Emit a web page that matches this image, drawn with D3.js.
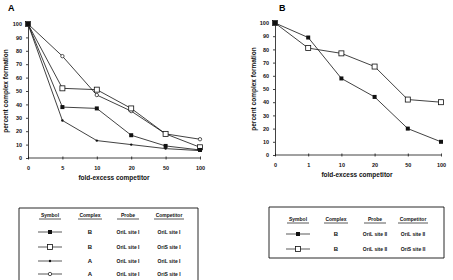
<!DOCTYPE html>
<html>
<head>
<meta charset="utf-8">
<script src="https://cdn.jsdelivr.net/npm/d3@7"></script>
<style>
  body { margin: 0; background: #fff; }
  svg { display: block; font-family: "Liberation Sans", Arial, sans-serif; }
  .axis text { font-size: 5.5px; font-weight: bold; fill: #111; }
  .axis path, .axis line { stroke: #111; stroke-width: 0.8; }
  .title { font-size: 6.5px; font-weight: bold; fill: #111; }
  .leg { font-size: 5px; font-weight: bold; fill: #111; }
</style>
</head>
<body>
<svg id="chart" width="453" height="280"></svg>
<script>
// panel A data
var catsA = ["0", "5", "10", "20", "50", "100"];
var aFilledSq = [100, 38, 37, 17, 9, 6];     // B, OriL site I / OriL site I
var aOpenSq   = [100, 52, 51, 37, 18, 8];    // B, OriL site I / OriS site I
var aFilledDot = [100, 28, 13, 10, 7, 5.5];  // A, OriL site I / OriL site I
var aOpenDot  = [100, 76, 47, 35, 18, 14];   // A, OriL site I / OriS site I

// panel B data
var catsB = ["0", "1", "10", "20", "50", "100"];
var bFilledSq = [100, 89, 58, 44, 20, 10];   // B, OriL site II / OriL site II
var bOpenSq   = [100, 81, 77, 67, 42, 40];   // B, OriL site II / OriS site II

var yTicks = [0, 10, 20, 30, 40, 50, 60, 70, 80, 90, 100];

var legHeaders = ["Symbol", "Complex", "Probe", "Competitor"];
var legRowsA = [
  ["fsq", "B", "OriL  site I", "OriL  site I"],
  ["osq", "B", "OriL  site I", "OriS  site I"],
  ["fdot", "A", "OriL  site I", "OriL  site I"],
  ["odot", "A", "OriL  site I", "OriS  site I"]
];
var legRowsB = [
  ["fsq", "B", "OriL  site II", "OriL  site II"],
  ["osq", "B", "OriL  site II", "OriS  site II"]
];

var svg = d3.select("#chart");

function marker(g, type, x, y) {
  if (type == "fsq") {
    g.append("rect").attr("x", x - 2).attr("y", y - 2).attr("width", 4).attr("height", 4)
      .attr("fill", "#111");
  } else if (type == "osq") {
    g.append("rect").attr("x", x - 2.5).attr("y", y - 2.5).attr("width", 5).attr("height", 5)
      .attr("fill", "#fff").attr("stroke", "#111").attr("stroke-width", 0.8);
  } else if (type == "fdot") {
    g.append("circle").attr("cx", x).attr("cy", y).attr("r", 1.2).attr("fill", "#111");
  } else {
    g.append("circle").attr("cx", x).attr("cy", y).attr("r", 1.7)
      .attr("fill", "#fff").attr("stroke", "#111").attr("stroke-width", 0.7);
  }
}

function drawPanel(p) {
  var x = d3.scalePoint().domain(p.cats).range([p.x0, p.x1]);
  var y = d3.scaleLinear().domain([0, 100]).range([p.y0, p.y1]);

  svg.append("text").attr("x", p.lx).attr("y", p.ly)
    .style("font-size", "9px").style("font-weight", "bold").text(p.label);

  svg.append("g").attr("class", "axis")
    .attr("transform", "translate(" + p.x0 + ",0)")
    .call(d3.axisLeft(y).tickValues(yTicks).tickSize(2).tickPadding(4).tickSizeOuter(0));

  var xa = svg.append("g").attr("class", "axis")
    .attr("transform", "translate(0," + p.y0 + ")")
    .call(d3.axisBottom(x).tickSize(2).tickPadding(6).tickSizeOuter(0));
  xa.select(".domain").attr("d", "M" + p.x0 + ",0H" + p.x1);
  xa.selectAll(".tick line").attr("y1", -1.5).attr("y2", 1.5);

  svg.append("text").attr("class", "title")
    .attr("x", (p.x0 + p.x1) / 2 + p.txOff).attr("y", p.y0 + 22)
    .attr("text-anchor", "middle").text("fold-excess  competitor");

  svg.append("text").attr("class", "title")
    .attr("transform", "translate(" + p.ytx + "," + (p.y0 + p.y1) / 2 + ") rotate(-90)")
    .attr("text-anchor", "middle").text("percent  complex  formation");

  var line = d3.line().x(function(d, i) { return x(p.cats[i]); }).y(function(d) { return y(d); });

  p.series.forEach(function(s) {
    svg.append("path").datum(s.values).attr("d", line)
      .attr("fill", "none").attr("stroke", "#111").attr("stroke-width", 0.8);
  });
  p.series.forEach(function(s) {
    var g = svg.append("g");
    s.values.forEach(function(v, i) { marker(g, s.type, x(p.cats[i]), y(v)); });
  });
}

function drawLegend(l) {
  var g = svg.append("g");
  g.append("path")
    .attr("d", "M" + l.left + "," + l.bottom + "V" + l.top + "H" + l.right + "V" + l.bottom + (l.closed ? "Z" : ""))
    .attr("fill", "none").attr("stroke", "#111").attr("stroke-width", 0.9);

  legHeaders.forEach(function(h, i) {
    var t = g.append("text").attr("class", "leg").attr("x", l.cols[i]).attr("y", l.hy)
      .attr("text-anchor", "middle").text(h);
    var w = l.ulw[i];
    g.append("line").attr("x1", l.cols[i] - w / 2).attr("x2", l.cols[i] + w / 2)
      .attr("y1", l.hy + 2).attr("y2", l.hy + 2).attr("stroke", "#111").attr("stroke-width", 0.7);
  });

  l.rows.forEach(function(r, j) {
    var ry = l.ry[j];
    g.append("line").attr("x1", l.cols[0] - 12).attr("x2", l.cols[0] + 12)
      .attr("y1", ry).attr("y2", ry).attr("stroke", "#111").attr("stroke-width", 0.7);
    marker(g, r[0], l.cols[0], ry);
    g.append("text").attr("class", "leg").attr("x", l.cols[1]).attr("y", ry + 2)
      .attr("text-anchor", "middle").style("font-size", "6px").text(r[1]);
    g.append("text").attr("class", "leg").attr("x", l.cols[2]).attr("y", ry + 2)
      .attr("text-anchor", "middle").text(r[2]);
    g.append("text").attr("class", "leg").attr("x", l.cols[3]).attr("y", ry + 2)
      .attr("text-anchor", "middle").text(r[3]);
  });
}

drawPanel({
  label: "A", lx: 8, ly: 11,
  cats: catsA, x0: 28, x1: 200, y0: 158, y1: 24, ytx: 8, txOff: 0,
  series: [
    { type: "odot", values: aOpenDot },
    { type: "osq", values: aOpenSq },
    { type: "fsq", values: aFilledSq },
    { type: "fdot", values: aFilledDot }
  ]
});

drawPanel({
  label: "B", lx: 279, ly: 11,
  cats: catsB, x0: 275, x1: 441, y0: 155, y1: 23, ytx: 256, txOff: -1,
  series: [
    { type: "osq", values: bOpenSq },
    { type: "fsq", values: bFilledSq }
  ]
});

drawLegend({
  left: 19, right: 198, top: 208, bottom: 282, closed: false,
  cols: [50, 90, 128, 169], ulw: [22, 24, 22, 30], hy: 217,
  ry: [232, 247, 261, 274], rows: legRowsA
});

drawLegend({
  left: 269, right: 444, top: 207, bottom: 258, closed: true,
  cols: [298, 336, 375, 413], ulw: [22, 24, 22, 30], hy: 221,
  ry: [234, 249], rows: legRowsB
});
</script>
</body>
</html>
